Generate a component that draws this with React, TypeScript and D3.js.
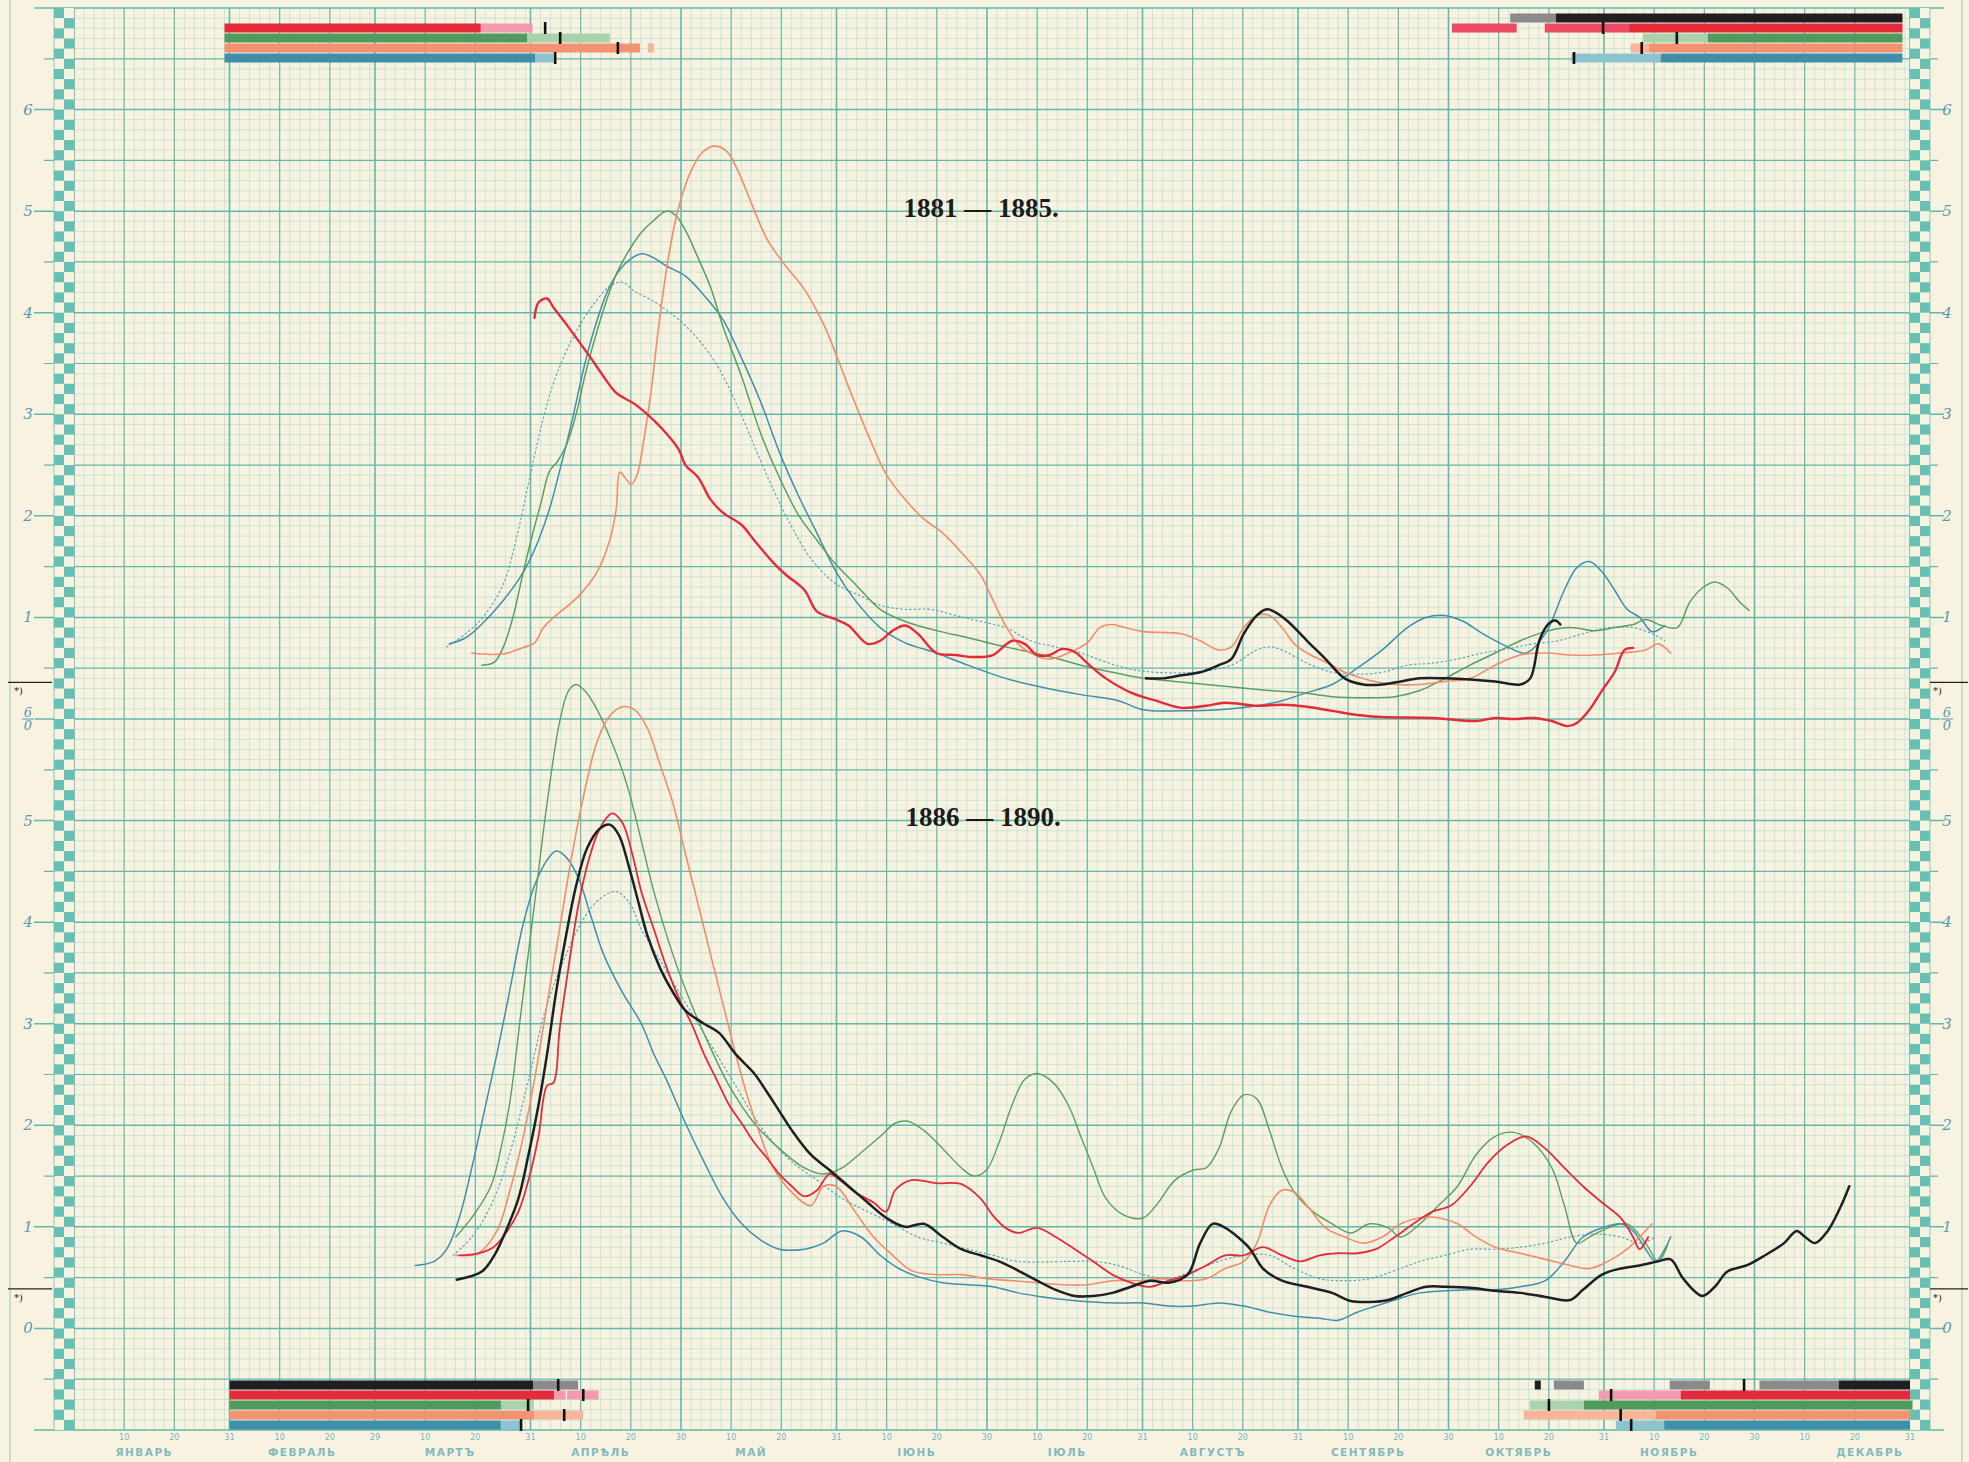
import React from 'react';
import * as d3 from 'd3';

const W = 1969;
const H = 1462;

// ---------- calendar (leap year) ----------
const monthLengths = [31, 29, 31, 30, 31, 30, 31, 31, 30, 31, 30, 31];
const monthNames = ['ЯНВАРЬ', 'ФЕВРАЛЬ', 'МАРТЪ', 'АПРѢЛЬ', 'МАЙ', 'ІЮНЬ', 'ІЮЛЬ', 'АВГУСТЪ', 'СЕНТЯБРЬ', 'ОКТЯБРЬ', 'НОЯБРЬ', 'ДЕКАБРЬ'];
const monthLabelDays = [14, 45.5, 75, 105, 135, 168, 198, 227, 258, 288, 318, 358];

// ---------- y tick labels ----------
const upperTickValues = [6, 5, 4, 3, 2, 1];
const lowerTickValues = [5, 4, 3, 2, 1, 0];

// ---------- 1881 – 1885 (upper panel) : [day of year, value] ----------
const upperRed: [number, number][] = [
  [91.8, 3.95], [92.6, 4.10], [94.3, 4.14], [95.6, 4.05], [98.1, 3.89], [100.6, 3.72], [103.1, 3.55], [105.6, 3.37],
  [108.1, 3.21], [111.8, 3.10], [115.6, 2.94], [118.1, 2.81], [120.6, 2.65], [121.9, 2.50], [124.4, 2.38], [126.9, 2.16],
  [129.4, 2.03], [133.1, 1.91], [135.6, 1.76], [139.4, 1.54], [141.9, 1.42], [145.6, 1.27], [148.1, 1.06], [151.9, 0.98],
  [154.4, 0.92], [158.2, 0.74], [160.7, 0.77], [163.2, 0.87], [165.7, 0.92], [168.2, 0.84], [171.9, 0.65], [175.7, 0.63],
  [179.4, 0.61], [183.2, 0.63], [187.0, 0.77], [189.5, 0.74], [192.0, 0.63], [194.5, 0.63], [197.0, 0.69], [199.5, 0.66],
  [202.0, 0.55], [205.7, 0.40], [210.7, 0.26], [215.7, 0.18], [220.7, 0.11], [225.7, 0.13], [229.5, 0.16], [235.8, 0.13],
  [240.8, 0.14], [245.8, 0.12], [250.8, 0.08], [255.8, 0.04], [260.8, 0.02], [270.8, 0.01], [279.5, -0.02], [283.3, 0.01],
  [287.0, 0.0], [290.8, 0.01], [294.6, -0.02], [297.8, -0.07], [299.6, -0.04], [302.1, 0.09], [304.6, 0.28], [307.1, 0.46],
  [309.1, 0.68], [310.8, 0.70],
];
const upperSalmon: [number, number][] = [
  [79.3, 0.65], [85.6, 0.64], [89.3, 0.70], [91.8, 0.75], [93.6, 0.90], [95.6, 1.00], [100.6, 1.21], [104.3, 1.45],
  [106.8, 1.76], [108.1, 2.07], [108.8, 2.43], [109.8, 2.38], [111.1, 2.31], [112.3, 2.41], [113.6, 2.75], [115.1, 3.25],
  [116.4, 3.80], [118.1, 4.42], [120.1, 4.95], [122.6, 5.35], [125.1, 5.57], [127.6, 5.64], [130.1, 5.59], [132.6, 5.37],
  [135.1, 5.07], [138.1, 4.73], [141.1, 4.51], [145.6, 4.23], [149.4, 3.89], [151.9, 3.59], [154.4, 3.27], [158.2, 2.81],
  [161.9, 2.41], [165.7, 2.16], [169.4, 1.97], [173.2, 1.83], [176.9, 1.64], [180.7, 1.42], [183.2, 1.17], [185.7, 0.92],
  [188.2, 0.74], [190.7, 0.65], [194.5, 0.59], [198.2, 0.65], [202.0, 0.75], [204.5, 0.90], [207.0, 0.93], [209.5, 0.90],
  [213.2, 0.86], [220.7, 0.84], [224.5, 0.77], [228.2, 0.68], [230.7, 0.71], [233.2, 0.90], [235.8, 1.02], [238.3, 1.02],
  [240.8, 0.90], [243.3, 0.74], [245.8, 0.65], [249.5, 0.56], [253.3, 0.46], [258.3, 0.38], [263.3, 0.34], [268.3, 0.34],
  [273.3, 0.37], [278.3, 0.40], [283.3, 0.53], [288.3, 0.63], [293.3, 0.65], [298.3, 0.63], [303.3, 0.63], [308.3, 0.65],
  [313.3, 0.68], [315.8, 0.74], [318.3, 0.65],
];
const upperGreen: [number, number][] = [
  [81.3, 0.53], [83.8, 0.56], [85.6, 0.71], [87.6, 1.02], [89.3, 1.39], [91.1, 1.76], [93.1, 2.13], [94.8, 2.44],
  [96.3, 2.53], [98.1, 2.69], [100.1, 3.00], [101.8, 3.37], [103.8, 3.74], [106.1, 4.11], [108.1, 4.38], [110.6, 4.61],
  [113.1, 4.79], [115.6, 4.91], [118.1, 5.00], [120.1, 4.95], [122.1, 4.79], [124.4, 4.54], [126.9, 4.25], [129.4, 3.86],
  [133.1, 3.37], [136.9, 2.81], [140.6, 2.38], [144.4, 2.01], [148.1, 1.76], [151.9, 1.52], [155.7, 1.33], [160.7, 1.08],
  [165.7, 0.96], [171.9, 0.87], [178.2, 0.80], [185.7, 0.71], [193.2, 0.63], [200.7, 0.53], [207.0, 0.46], [213.2, 0.40],
  [219.5, 0.37], [225.7, 0.34], [232.0, 0.31], [238.3, 0.28], [244.5, 0.26], [250.8, 0.22], [257.0, 0.21], [263.3, 0.22],
  [268.3, 0.28], [273.3, 0.40], [278.3, 0.53], [283.3, 0.65], [288.3, 0.77], [293.3, 0.86], [298.3, 0.90], [303.3, 0.87],
  [307.1, 0.90], [310.8, 0.93], [313.3, 0.98], [316.5, 0.92], [319.6, 0.90], [322.1, 1.15], [324.6, 1.29], [327.1, 1.35],
  [329.6, 1.29], [332.1, 1.15], [333.9, 1.07],
];
const upperBlue: [number, number][] = [
  [74.8, 0.74], [78.1, 0.80], [81.8, 0.96], [85.6, 1.17], [88.6, 1.37], [90.6, 1.54], [92.6, 1.76], [94.8, 2.07],
  [96.8, 2.44], [99.3, 2.94], [101.8, 3.49], [104.3, 3.93], [106.8, 4.26], [109.8, 4.48], [113.1, 4.58], [115.6, 4.54],
  [118.1, 4.46], [121.9, 4.36], [125.6, 4.17], [129.4, 3.93], [133.1, 3.55], [136.9, 3.12], [140.6, 2.63], [144.4, 2.20],
  [148.1, 1.83], [151.9, 1.45], [155.7, 1.17], [160.7, 0.90], [165.7, 0.75], [171.9, 0.65], [178.2, 0.53], [185.7, 0.40],
  [193.2, 0.31], [200.7, 0.24], [208.2, 0.18], [213.2, 0.09], [220.7, 0.08], [228.2, 0.09], [235.8, 0.13], [240.8, 0.18],
  [245.8, 0.26], [250.8, 0.34], [255.8, 0.50], [260.8, 0.68], [265.8, 0.90], [269.5, 1.00], [273.3, 1.02], [277.0, 0.96],
  [280.8, 0.84], [285.8, 0.71], [289.5, 0.65], [293.3, 0.84], [297.1, 1.27], [299.6, 1.49], [302.1, 1.55], [304.6, 1.45],
  [307.1, 1.27], [309.6, 1.08], [312.1, 1.00], [314.6, 0.86], [317.1, 0.92],
];
const upperDotted: [number, number][] = [
  [74.3, 0.71], [78.1, 0.84], [81.8, 1.02], [85.6, 1.33], [88.1, 1.76], [90.6, 2.32], [93.1, 2.87], [95.6, 3.31],
  [99.3, 3.74], [103.1, 4.05], [106.8, 4.26], [109.3, 4.30], [111.8, 4.21], [115.6, 4.11], [120.6, 3.93], [124.4, 3.74],
  [128.1, 3.49], [131.9, 3.12], [135.6, 2.69], [139.4, 2.26], [143.1, 1.89], [146.9, 1.58], [151.9, 1.33], [156.9, 1.21],
  [160.7, 1.12], [165.7, 1.08], [170.7, 1.08], [175.7, 1.02], [180.7, 0.96], [185.7, 0.90], [190.7, 0.77], [195.7, 0.71],
  [200.7, 0.65], [205.7, 0.56], [210.7, 0.49], [215.7, 0.46], [223.2, 0.46], [230.7, 0.53], [235.8, 0.68], [238.3, 0.71],
  [240.8, 0.68], [245.8, 0.55], [250.8, 0.46], [255.8, 0.44], [260.8, 0.46], [265.8, 0.53], [270.8, 0.55], [275.8, 0.59],
  [280.8, 0.65], [285.8, 0.69], [290.8, 0.74], [295.8, 0.77], [300.8, 0.84], [305.8, 0.90], [310.8, 0.90], [314.6, 0.84],
  [317.1, 0.77],
];
const upperBlack: [number, number][] = [
  [213.7, 0.40], [217.0, 0.40], [220.7, 0.43], [224.5, 0.46], [228.2, 0.53], [230.7, 0.59], [233.2, 0.84], [235.8, 1.02],
  [237.8, 1.08], [239.5, 1.05], [242.0, 0.96], [245.8, 0.77], [249.5, 0.59], [253.3, 0.40], [257.0, 0.34], [260.8, 0.34],
  [264.5, 0.37], [268.3, 0.40], [273.3, 0.40], [278.3, 0.39], [283.3, 0.37], [288.3, 0.34], [290.3, 0.40], [292.1, 0.77],
  [293.8, 0.93], [295.3, 0.97], [296.3, 0.93],
];

// ---------- 1886 – 1890 (lower panel) ----------
const lowerBlack: [number, number][] = [
  [76.3, 0.48], [81.3, 0.56], [83.8, 0.72], [86.1, 0.96], [88.6, 1.28], [90.6, 1.71], [92.6, 2.20], [94.3, 2.70],
  [96.1, 3.31], [98.1, 3.87], [100.1, 4.36], [102.3, 4.73], [104.8, 4.92], [106.8, 4.96], [108.6, 4.86], [110.6, 4.55],
  [112.6, 4.18], [114.3, 3.87], [116.9, 3.54], [119.4, 3.31], [121.9, 3.13], [125.6, 3.00], [128.6, 2.91], [131.9, 2.70],
  [135.6, 2.51], [138.1, 2.33], [140.6, 2.14], [143.1, 1.95], [146.9, 1.71], [150.6, 1.56], [154.4, 1.40], [158.2, 1.24],
  [161.9, 1.09], [165.7, 1.00], [169.4, 1.03], [173.2, 0.90], [176.9, 0.78], [180.7, 0.72], [184.4, 0.66], [188.2, 0.57],
  [192.0, 0.47], [195.7, 0.38], [199.5, 0.32], [203.2, 0.32], [207.0, 0.35], [210.7, 0.41], [214.5, 0.47], [218.2, 0.45],
  [222.0, 0.53], [224.5, 0.84], [227.0, 1.03], [229.5, 0.99], [232.0, 0.90], [234.5, 0.78], [237.0, 0.59], [240.8, 0.47],
  [245.8, 0.41], [250.8, 0.35], [254.5, 0.27], [258.3, 0.26], [262.0, 0.28], [265.8, 0.35], [269.5, 0.41], [273.3, 0.41],
  [278.3, 0.40], [283.3, 0.37], [288.3, 0.35], [293.3, 0.31], [298.3, 0.28], [300.8, 0.38], [304.6, 0.53], [308.3, 0.59],
  [312.1, 0.62], [315.8, 0.66], [318.3, 0.68], [320.8, 0.49], [324.6, 0.32], [327.1, 0.41], [329.6, 0.56], [333.4, 0.62],
  [337.1, 0.72], [340.9, 0.84], [343.4, 0.96], [345.1, 0.90], [347.1, 0.84], [349.6, 0.96], [352.1, 1.19], [353.9, 1.40],
];
const lowerRed: [number, number][] = [
  [76.8, 0.72], [80.6, 0.74], [83.6, 0.80], [86.1, 0.94], [88.6, 1.15], [90.6, 1.46], [92.6, 1.89], [94.3, 2.39],
  [95.6, 2.42], [96.8, 2.94], [98.6, 3.56], [100.6, 4.18], [102.6, 4.61], [104.8, 4.92], [107.3, 5.07], [109.3, 4.98],
  [111.3, 4.67], [113.1, 4.30], [115.6, 3.93], [118.1, 3.56], [120.6, 3.25], [123.1, 3.00], [125.6, 2.70], [128.1, 2.45],
  [130.6, 2.20], [133.1, 2.02], [135.6, 1.83], [138.1, 1.68], [140.6, 1.52], [143.1, 1.40], [145.6, 1.30], [148.1, 1.36],
  [150.6, 1.52], [152.7, 1.46], [155.7, 1.34], [159.4, 1.24], [161.9, 1.15], [163.7, 1.36], [166.9, 1.46], [171.9, 1.43],
  [176.9, 1.42], [180.7, 1.28], [183.2, 1.11], [185.7, 0.99], [188.2, 0.94], [192.0, 0.99], [195.7, 0.90], [199.5, 0.78],
  [203.2, 0.66], [207.0, 0.53], [210.7, 0.45], [214.5, 0.41], [218.2, 0.47], [222.0, 0.53], [225.7, 0.62], [229.5, 0.72],
  [233.2, 0.72], [237.0, 0.80], [240.8, 0.72], [244.5, 0.66], [248.3, 0.72], [252.0, 0.74], [255.8, 0.74], [259.5, 0.78],
  [263.3, 0.90], [267.0, 1.03], [270.8, 1.15], [274.5, 1.21], [278.3, 1.40], [282.0, 1.64], [285.8, 1.81], [289.5, 1.89],
  [293.3, 1.77], [297.1, 1.58], [300.8, 1.40], [304.6, 1.24], [308.3, 1.09], [310.8, 0.90], [312.1, 0.78], [313.8, 0.90],
];
const lowerGreen: [number, number][] = [
  [76.1, 0.90], [79.3, 1.09], [83.1, 1.40], [85.1, 1.77], [86.8, 2.20], [89.3, 3.19], [91.8, 4.18], [94.3, 5.17],
  [96.8, 5.97], [98.6, 6.28], [100.1, 6.34], [101.8, 6.28], [104.3, 6.09], [108.1, 5.66], [110.6, 5.29], [113.1, 4.80],
  [115.6, 4.30], [119.4, 3.68], [123.1, 3.19], [126.9, 2.76], [130.6, 2.39], [135.6, 2.02], [140.6, 1.77], [145.6, 1.58],
  [149.4, 1.52], [153.1, 1.58], [156.9, 1.73], [160.7, 1.89], [163.7, 2.02], [166.2, 2.04], [169.4, 1.95], [173.2, 1.77],
  [176.9, 1.58], [179.4, 1.50], [181.9, 1.56], [184.4, 1.83], [187.0, 2.20], [189.5, 2.45], [192.0, 2.51], [195.2, 2.42],
  [198.2, 2.20], [200.7, 1.89], [203.2, 1.58], [205.7, 1.28], [209.5, 1.11], [213.2, 1.09], [215.7, 1.21], [219.5, 1.46],
  [223.2, 1.56], [225.7, 1.58], [228.2, 1.77], [230.7, 2.14], [233.2, 2.30], [235.8, 2.26], [238.3, 1.95], [240.8, 1.58],
  [243.3, 1.34], [247.0, 1.15], [250.8, 1.03], [254.5, 0.94], [258.3, 1.03], [262.0, 0.99], [264.5, 0.90], [268.3, 1.03],
  [272.0, 1.21], [275.8, 1.40], [279.5, 1.71], [283.3, 1.89], [287.0, 1.93], [290.8, 1.83], [294.6, 1.58], [297.1, 1.21],
  [299.6, 0.84], [302.1, 0.90], [305.8, 0.99], [309.6, 1.03], [313.3, 0.84], [315.8, 0.66], [317.8, 0.84],
];
const lowerSalmon: [number, number][] = [
  [76.1, 0.72], [80.6, 0.74], [84.3, 0.96], [86.8, 1.34], [89.3, 1.83], [91.8, 2.45], [94.3, 3.19], [96.8, 3.93],
  [99.3, 4.67], [101.8, 5.29], [104.3, 5.78], [106.8, 6.03], [109.3, 6.12], [111.8, 6.09], [114.3, 5.91], [116.9, 5.54],
  [119.4, 5.17], [121.9, 4.67], [124.4, 4.18], [126.9, 3.68], [129.4, 3.19], [131.9, 2.70], [134.4, 2.26], [136.9, 1.89],
  [139.4, 1.58], [143.1, 1.34], [146.9, 1.21], [149.4, 1.40], [151.9, 1.40], [155.7, 1.15], [159.4, 0.90], [163.2, 0.72],
  [166.9, 0.57], [171.9, 0.53], [176.9, 0.53], [181.9, 0.49], [187.0, 0.47], [192.0, 0.45], [197.0, 0.43], [202.0, 0.43],
  [207.0, 0.47], [212.0, 0.47], [217.0, 0.49], [220.7, 0.47], [225.7, 0.49], [229.5, 0.59], [233.2, 0.66], [235.8, 0.84],
  [238.3, 1.21], [240.8, 1.36], [243.3, 1.34], [245.8, 1.21], [249.5, 0.99], [253.3, 0.90], [257.0, 0.84], [260.8, 0.90],
  [264.5, 1.03], [268.3, 1.09], [272.0, 1.09], [275.8, 1.03], [279.5, 0.90], [283.3, 0.80], [288.3, 0.74], [293.3, 0.68],
  [298.3, 0.62], [302.1, 0.59], [305.8, 0.66], [309.6, 0.78], [312.1, 0.90], [314.6, 1.03],
];
const lowerBlue: [number, number][] = [
  [68.0, 0.62], [71.8, 0.66], [74.3, 0.78], [76.8, 1.09], [79.3, 1.58], [81.8, 2.14], [84.3, 2.70], [86.8, 3.31],
  [89.3, 3.93], [91.8, 4.36], [94.3, 4.61], [96.1, 4.70], [98.1, 4.64], [100.6, 4.43], [103.1, 4.05], [105.6, 3.68],
  [109.3, 3.31], [113.1, 3.00], [115.6, 2.70], [118.1, 2.45], [121.9, 2.02], [125.6, 1.64], [129.4, 1.28], [133.1, 1.03],
  [136.9, 0.87], [140.6, 0.78], [145.6, 0.78], [149.4, 0.84], [153.1, 0.96], [156.9, 0.90], [160.7, 0.72], [164.4, 0.59],
  [168.2, 0.51], [173.2, 0.45], [178.2, 0.43], [183.2, 0.41], [188.2, 0.35], [193.2, 0.31], [198.2, 0.28], [203.2, 0.26],
  [208.2, 0.25], [213.2, 0.25], [218.2, 0.22], [223.2, 0.22], [228.2, 0.25], [233.2, 0.22], [238.3, 0.16], [243.3, 0.12],
  [248.3, 0.10], [252.0, 0.08], [255.8, 0.16], [259.5, 0.22], [263.3, 0.28], [268.3, 0.35], [273.3, 0.37], [278.3, 0.38],
  [283.3, 0.38], [288.3, 0.41], [293.3, 0.47], [297.1, 0.66], [300.8, 0.90], [304.6, 0.99], [308.3, 1.03], [310.8, 0.96],
  [313.3, 0.78], [315.3, 0.66], [317.1, 0.78], [318.3, 0.90],
];
const lowerDotted: [number, number][] = [
  [75.6, 0.72], [79.3, 0.90], [83.1, 1.21], [86.8, 1.71], [90.6, 2.45], [94.3, 3.19], [98.1, 3.68], [101.8, 4.05],
  [105.1, 4.24], [108.1, 4.30], [110.6, 4.20], [113.1, 3.93], [116.9, 3.62], [120.6, 3.31], [124.4, 3.00], [128.1, 2.70],
  [131.9, 2.39], [135.6, 2.08], [139.4, 1.83], [143.1, 1.64], [148.1, 1.46], [153.1, 1.28], [158.2, 1.15], [163.2, 1.03],
  [168.2, 0.90], [173.2, 0.84], [178.2, 0.78], [183.2, 0.72], [188.2, 0.66], [198.2, 0.66], [203.2, 0.66], [208.2, 0.62],
  [213.2, 0.53], [218.2, 0.49], [223.2, 0.57], [228.2, 0.66], [233.2, 0.72], [238.3, 0.72], [243.3, 0.59], [248.3, 0.49],
  [253.3, 0.47], [258.3, 0.49], [263.3, 0.57], [268.3, 0.66], [273.3, 0.72], [278.3, 0.78], [283.3, 0.78], [288.3, 0.80],
  [293.3, 0.84], [298.3, 0.90], [303.3, 0.93], [308.3, 0.90], [312.1, 0.84], [315.3, 0.90],
];

// ---------- ice bars: [row, fromDay, toDay, kind] ----------
type Seg = [string, number, number, string];
const topBars: Seg[] = [
  ['red', 30, 81.1, 'solid'], ['red', 81.1, 91.4, 'light'],
  ['green', 30, 90.4, 'solid'], ['green', 90.4, 106.8, 'light'],
  ['salmon', 30, 112.8, 'solid'], ['salmon', 114.4, 115.6, 'light'],
  ['blue', 30, 92, 'solid'], ['blue', 92, 95.6, 'light'],
  ['black', 286.3, 295.4, 'light'], ['black', 295.4, 364.5, 'solid'],
  ['red', 274.7, 287.6, 'mid'], ['red', 293.2, 310, 'mid'], ['red', 310, 364.5, 'solid'],
  ['green', 312.7, 325.7, 'light'], ['green', 325.7, 364.5, 'solid'],
  ['salmon', 310.3, 314, 'light'], ['salmon', 314, 364.5, 'solid'],
  ['blue', 298.5, 316.3, 'light'], ['blue', 316.3, 364.5, 'solid'],
];
const topTicks: [string, number][] = [
  ['red', 93.9], ['green', 96.9], ['salmon', 108.4], ['blue', 95.9],
  ['red', 304.8], ['green', 319.5], ['salmon', 312.5], ['blue', 299],
];
const bottomBars: Seg[] = [
  ['black', 31, 91.5, 'solid'], ['black', 91.5, 100.5, 'light'],
  ['red', 31, 95.7, 'solid'], ['red', 95.7, 98, 'light'], ['red', 98.3, 104.6, 'light'],
  ['green', 31, 85.1, 'solid'], ['green', 85.1, 91.7, 'light'],
  ['salmon', 31, 91.7, 'solid'], ['salmon', 91.7, 101.5, 'light'],
  ['blue', 31, 85.1, 'solid'], ['blue', 85.1, 89.1, 'light'],
  ['black', 291.2, 292.4, 'solid'], ['black', 295, 301, 'light'], ['black', 318.1, 326.1, 'light'],
  ['black', 336, 351.8, 'light'], ['black', 351.8, 366, 'solid'],
  ['red', 304, 320.3, 'light'], ['red', 320.3, 366, 'solid'],
  ['green', 290.2, 301, 'light'], ['green', 301, 366.5, 'solid'],
  ['salmon', 289, 315.3, 'light'], ['salmon', 315.3, 366, 'solid'],
  ['blue', 307.4, 317, 'light'], ['blue', 317, 366, 'solid'],
];
const bottomTicks: [string, number][] = [
  ['black', 96.5], ['red', 101.5], ['green', 90.5], ['salmon', 97.7], ['blue', 89.1],
  ['black', 332.9], ['red', 306.4], ['green', 294], ['salmon', 308.3], ['blue', 310.4],
];

// ---------- styles ----------
const rows = ['black', 'red', 'green', 'salmon', 'blue'];
const solidColor: Record<string, string> = { black: '#1f1f22', red: '#e42b3a', green: '#4f9a5c', salmon: '#f39271', blue: '#3f8fab' };
const midColor: Record<string, string> = { black: '#555', red: '#ea4a62', green: '#7cb585', salmon: '#f6a383', blue: '#67a9c0' };
const lightColor: Record<string, string> = { black: '#8a8a8c', red: '#f49aae', green: '#a9d2ad', salmon: '#f8b59a', blue: '#8ec3d2' };
const BG = '#f8f3e0';
const GRID_MAJOR = '#62b8ae';
const GRID_MINOR = '#b0dcd2';
const CHECK = '#68c0b4';
const LABEL = '#5b98b3';

const x = d3.scaleLinear().domain([0, 366]).range([74, 1910]);
const y = d3.scaleLinear().domain([-1, 13]).range([1430, 8]);
const UP = 6;

export default function App() {
  const line = (off: number) =>
    d3.line<[number, number]>().x(d => x(d[0])).y(d => y(d[1] + off)).curve(d3.curveCatmullRom.alpha(0.5));
  const up = line(UP);
  const lo = line(0);

  // grid
  const hLines: { v: number; major: boolean; integer: boolean }[] = [];
  for (let i = 0; i <= 140; i++) {
    const v = -1 + i / 10;
    hLines.push({ v, major: i % 5 === 0, integer: i % 10 === 0 });
  }
  const vMajor: { d: number; end: boolean }[] = [{ d: 0, end: true }];
  const vMinor: number[] = [];
  const dayLabels: { d: number; t: string }[] = [];
  let start = 0;
  monthLengths.forEach(len => {
    const marks = [start + 10, start + 20, start + len];
    let s = start;
    marks.forEach((m, k) => {
      for (let dd = s + 2; dd < m - 0.5; dd += 2) vMinor.push(dd);
      vMajor.push({ d: m, end: k === 2 });
      dayLabels.push({ d: m, t: k === 0 ? '10' : k === 1 ? '20' : String(len) });
      s = m;
    });
    start += len;
  });

  const unit = y(0) - y(1);
  const cell = unit / 10;
  const checks: { x: number; y: number }[] = [];
  for (let i = 0; i < 140; i++) {
    const yy = y(13) + i * cell;
    const leftCol = i % 2 === 0;
    checks.push({ x: leftCol ? 54 : 64, y: yy });
    checks.push({ x: leftCol ? 1910 : 1920, y: yy });
  }

  const topBand = d3.scaleBand<string>().domain(rows).range([13, 63]);
  const botBand = d3.scaleBand<string>().domain(rows).range([1380, 1430]);

  const shade = (b: Seg) => (b[3] === 'solid' ? solidColor[b[0]] : b[3] === 'mid' ? midColor[b[0]] : lightColor[b[0]]);

  const renderBars = (bars: Seg[], ticks: [string, number][], band: d3.ScaleBand<string>, key: string) => (
    <g key={key}>
      {bars.map((b, i) => (
        <rect key={i} x={x(b[1])} y={band(b[0])! + 0.5} width={Math.max(1, x(b[2]) - x(b[1]))} height={band.bandwidth() - 1}
          fill={shade(b)} />
      ))}
      {ticks.map((t, i) => (
        <rect key={'t' + i} x={x(t[1]) - 1.2} y={band(t[0])! - 1} width={2.6} height={band.bandwidth() + 2} fill="#111" />
      ))}
    </g>
  );

  const series: { data: [number, number][]; gen: any; color: string; w: number; dash?: string }[] = [
    { data: upperDotted, gen: up, color: '#5aa6b8', w: 1.2, dash: '1.5,3' },
    { data: upperBlue, gen: up, color: '#3f8fab', w: 1.5 },
    { data: upperGreen, gen: up, color: '#5a9f62', w: 1.5 },
    { data: upperSalmon, gen: up, color: '#f28c6a', w: 1.6 },
    { data: upperRed, gen: up, color: '#e42b3a', w: 2.4 },
    { data: upperBlack, gen: up, color: '#1f1f22', w: 2.5 },
    { data: lowerDotted, gen: lo, color: '#5aa6b8', w: 1.2, dash: '1.5,3' },
    { data: lowerBlue, gen: lo, color: '#3f8fab', w: 1.5 },
    { data: lowerGreen, gen: lo, color: '#5a9f62', w: 1.4 },
    { data: lowerSalmon, gen: lo, color: '#f28c6a', w: 1.6 },
    { data: lowerRed, gen: lo, color: '#e42b3a', w: 1.8 },
    { data: lowerBlack, gen: lo, color: '#1f1f22', w: 2.5 },
  ];

  const tickLabelStyle = { fontFamily: 'DejaVu Serif', fontStyle: 'italic', fontSize: 15, fill: LABEL } as const;

  return (
    <div style={{ position: 'absolute', left: 0, top: 0 }}>
      <svg width={W} height={H} viewBox={`0 0 ${W} ${H}`} style={{ display: 'block' }}>
        <rect x={0} y={0} width={W} height={H} fill={BG} />
        {/* page border lines */}
        <line x1={10} x2={10} y1={0} y2={H} stroke="#8ccbc2" strokeWidth={1} />
        <line x1={1962} x2={1962} y1={0} y2={H} stroke="#8ccbc2" strokeWidth={1} />

        {/* minor grid */}
        {hLines.filter(h => !h.major).map((h, i) => (
          <line key={'hm' + i} x1={74} x2={1910} y1={y(h.v)} y2={y(h.v)} stroke={GRID_MINOR} strokeWidth={0.6} />
        ))}
        {vMinor.map((d, i) => (
          <line key={'vm' + i} x1={x(d)} x2={x(d)} y1={y(13)} y2={y(-1)} stroke={GRID_MINOR} strokeWidth={0.6} />
        ))}
        {/* major grid */}
        {hLines.filter(h => h.major).map((h, i) => (
          <line key={'hM' + i} x1={h.integer ? 34 : 44} x2={h.integer ? 1944 : 1938} y1={y(h.v)} y2={y(h.v)}
            stroke={GRID_MAJOR} strokeWidth={h.integer ? 1.5 : 1.2} />
        ))}
        {vMajor.map((v, i) => (
          <line key={'vM' + i} x1={x(v.d)} x2={x(v.d)} y1={y(13)} y2={y(-1)} stroke={GRID_MAJOR} strokeWidth={v.end ? 1.6 : 1.2} />
        ))}

        {/* checkerboard borders */}
        <rect x={54} y={y(13)} width={20} height={y(-1) - y(13)} fill={BG} />
        <rect x={1910} y={y(13)} width={20} height={y(-1) - y(13)} fill={BG} />
        {checks.map((c, i) => (
          <rect key={'c' + i} x={c.x} y={c.y} width={10} height={cell} fill={CHECK} />
        ))}
        <line x1={54} x2={54} y1={y(13)} y2={y(-1)} stroke={CHECK} strokeWidth={0.8} />
        <line x1={1930} x2={1930} y1={y(13)} y2={y(-1)} stroke={CHECK} strokeWidth={0.8} />

        {/* ice bars */}
        {renderBars(topBars, topTicks, topBand, 'top')}
        {renderBars(bottomBars, bottomTicks, botBand, 'bot')}

        {/* curves */}
        {series.map((s, i) => (
          <path key={'s' + i} d={s.gen(s.data)} fill="none" stroke={s.color} strokeWidth={s.w}
            strokeDasharray={s.dash} strokeLinejoin="round" strokeLinecap="round" />
        ))}

        {/* y tick labels */}
        {upperTickValues.map(v => (
          <g key={'u' + v}>
            <text x={28} y={y(v + UP) + 5} textAnchor="middle" {...tickLabelStyle}>{v}</text>
            <text x={1947} y={y(v + UP) + 5} textAnchor="middle" {...tickLabelStyle}>{v}</text>
          </g>
        ))}
        {lowerTickValues.map(v => (
          <g key={'l' + v}>
            <text x={28} y={y(v) + 5} textAnchor="middle" {...tickLabelStyle}>{v}</text>
            <text x={1947} y={y(v) + 5} textAnchor="middle" {...tickLabelStyle}>{v}</text>
          </g>
        ))}
        {[28, 1947].map(cx => (
          <g key={'f' + cx}>
            <rect x={cx - 7} y={y(UP) - 14} width={14} height={28} fill={BG} />
            <text x={cx} y={y(UP) - 2} textAnchor="middle" {...tickLabelStyle} fontSize={13}>6</text>
            <line x1={cx - 6} x2={cx + 6} y1={y(UP)} y2={y(UP)} stroke={LABEL} strokeWidth={1} />
            <text x={cx} y={y(UP) + 11} textAnchor="middle" {...tickLabelStyle} fontSize={13}>0</text>
          </g>
        ))}

        {/* *) reference marks */}
        {[6.36, 0.39].map(v => (
          <g key={'m' + v}>
            <line x1={8} x2={52} y1={y(v)} y2={y(v)} stroke="#222" strokeWidth={1.2} />
            <text x={14} y={y(v) + 12} fontFamily="DejaVu Serif" fontSize={10} fill="#222">*)</text>
            <line x1={1930} x2={1968} y1={y(v)} y2={y(v)} stroke="#222" strokeWidth={1.2} />
            <text x={1933} y={y(v) + 12} fontFamily="DejaVu Serif" fontSize={10} fill="#222">*)</text>
          </g>
        ))}

        {/* titles */}
        <text x={981} y={217} textAnchor="middle" fontFamily="Liberation Serif" fontWeight="bold" fontSize={27} fill="#1b1b1b">1881 — 1885.</text>
        <text x={983} y={826} textAnchor="middle" fontFamily="Liberation Serif" fontWeight="bold" fontSize={27} fill="#1b1b1b">1886 — 1890.</text>

        {/* x axis labels */}
        {dayLabels.map((l, i) => (
          <text key={'d' + i} x={x(l.d)} y={1440} textAnchor="middle" fontFamily="DejaVu Sans Condensed, DejaVu Sans" fontSize={9} fill="#78b4bd">{l.t}</text>
        ))}
        {monthNames.map((m, i) => (
          <text key={'mn' + i} x={x(monthLabelDays[i])} y={1456} textAnchor="middle" fontFamily="DejaVu Sans" fontSize={10.5}
            fontWeight="bold" letterSpacing={1.5} fill="#82b9c0">{m}</text>
        ))}
      </svg>
    </div>
  );
}
